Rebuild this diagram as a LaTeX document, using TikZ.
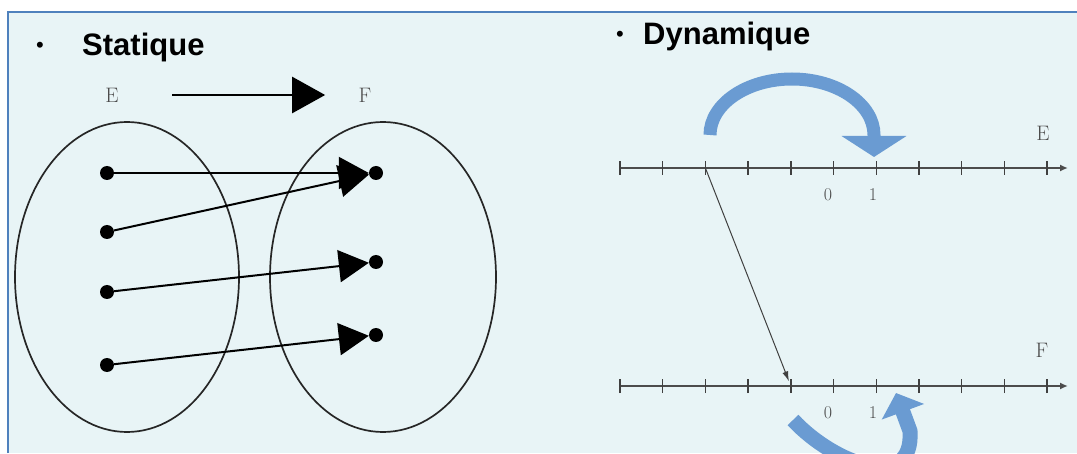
\documentclass[tikz,border=0pt]{standalone}
\usepackage{fontspec}
\newfontfamily\titlefont{Liberation Sans}
\usetikzlibrary{arrows.meta,positioning}
\definecolor{panel}{RGB}{232,244,246}
\definecolor{frame}{RGB}{79,129,189}
\definecolor{bend}{RGB}{106,155,210}

\begin{document}
\begin{tikzpicture}[x=1pt, y=1pt,
  title/.style={font=\titlefont\bfseries\fontsize{31}{36}\selectfont, anchor=base west, inner sep=0pt},
  bul/.style={font=\titlefont\fontsize{22}{24}\selectfont, anchor=base, inner sep=0pt},
  lbl/.style={font=\fontsize{21}{24}\selectfont, text=black!70},
  num/.style={font=\fontsize{18}{20}\selectfont, text=black!70},
  dot/.style={circle, fill=black, inner sep=0pt, minimum size=14pt},
  set/.style={draw=black!85, line width=1.7pt},
  map/.style={line width=2pt, -{Triangle[length=30pt,width=32pt]}},
  axis/.style={draw=black!70, line width=1.6pt, -{Latex[length=8pt,width=7pt]}},
  tick/.style={draw=black!75, line width=1.4pt},
  jump/.style={draw=bend, line width=13pt}]
  \useasboundingbox (0,0) rectangle (1077,453);
  \clip (0,0) rectangle (1077,453);
  \fill[panel] (7,0) rectangle (1077,441);
  \draw[frame, line width=2.5pt] (8,0) -- (8,441) -- (1077,441);

  \node[bul] at (40,400) {•};
  \node[title] (stat) at (82,397) {Statique};
  \node[bul] at (620,411) {•};
  \node[title] (dyn) at (643,408) {Dynamique};

  \node[lbl] (E) at (112,358) {E};
  \node[lbl] (F) at (365,358) {F};
  \draw[line width=2.5pt, -{Triangle[length=33pt,width=36pt]}]
    ([xshift=50pt]E.east) -- ([xshift=-30pt]F.west);

  \draw[set] (127,176) ellipse [x radius=112, y radius=155];
  \draw[set] (383,176) ellipse [x radius=113, y radius=155];
  \node[dot] (e1) at (107,280) {};
  \node[dot] (e2) at (107,221) {};
  \node[dot] (e3) at (107,161) {};
  \node[dot] (e4) at (107,88) {};
  \node[dot] (f1) at (376,280) {};
  \node[dot] (f2) at (376,191) {};
  \node[dot] (f3) at (376,118) {};
  \draw[map] (e1) -- (f1);
  \draw[map] (e2) -- (f1);
  \draw[map] (e3) -- (f2);
  \draw[map] (e4) -- (f3);

  \draw[axis] (620,285) -- (1068,285);
  \draw[axis] (620,67) -- (1068,67);
  \foreach \i in {0,...,10} {
    \coordinate (a\i) at (620+42.7*\i,285);
    \coordinate (b\i) at (620+42.7*\i,67);
    \draw[tick] ([yshift=-7pt]a\i) -- ([yshift=7pt]a\i);
    \draw[tick] ([yshift=-7pt]b\i) -- ([yshift=7pt]b\i);
  }
  \node[num] at (828,258) {0};
  \node[num] at (873,258) {1};
  \node[num] at (828,40) {0};
  \node[num] at (873,40) {1};
  \node[lbl] (EE) at (1043,320) {E};
  \node[lbl] (FF) at (1042,103) {F};
  \draw[black!75, line width=1pt, shorten >=5pt, -{Latex[length=10pt,width=6pt]}] (a2) -- (b4);

  \draw[jump, -{Triangle[length=21pt,width=64pt]}]
    (710,318) arc[start angle=180, end angle=0, x radius=82, y radius=56] -- ++(0,-22);
  \draw[jump, line width=15pt, -{Triangle[length=20pt,width=44pt]}]
    (793,33) .. controls (835,-12) and (914,-40) .. (910,22) -- (896,60);
\end{tikzpicture}
\end{document}
